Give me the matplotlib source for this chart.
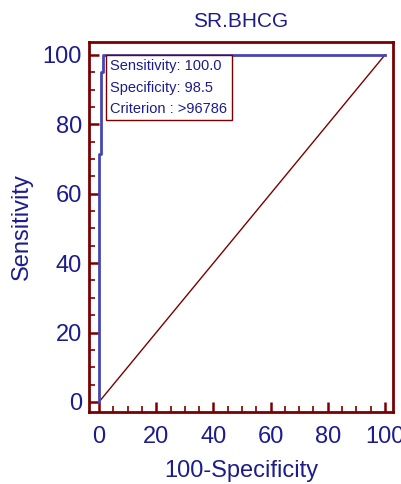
import matplotlib
matplotlib.use("Agg")
import matplotlib.pyplot as plt
from matplotlib import font_manager
from matplotlib.ticker import MultipleLocator

# Data
roc_fpr = [0, 0, 0.6, 0.6, 1.5, 1.5, 100]
roc_sens = [0, 71.4, 71.4, 95.2, 95.2, 100, 100]
diag_x = [0, 100]
diag_y = [0, 100]
title = "SR.BHCG"
xlabel = "100-Specificity"
ylabel = "Sensitivity"
box_lines = ["Sensitivity: 100.0", "Specificity: 98.5", "Criterion : >96786"]

names = {f.name for f in font_manager.fontManager.ttflist}
fam = "Liberation Sans Narrow" if "Liberation Sans Narrow" in names else "Liberation Sans"
plt.rcParams["font.family"] = [fam, "DejaVu Sans"]

navy = "#1c1c8c"
maroon = "#7a0000"
blue = "#4646b0"

fig = plt.figure(figsize=(4.01, 4.84), dpi=100)
ax = fig.add_axes([89/401, 72/484, 304/401, 370/484])

ax.plot(diag_x, diag_y, color=maroon, lw=1.0)
ax.plot(roc_fpr, roc_sens, color=blue, lw=2.0)

ax.set_xlim(-3.5, 102.8)
ax.set_ylim(-2.9, 103.7)
for s in ax.spines.values():
    s.set_color(maroon)
    s.set_linewidth(2)

ax.xaxis.set_major_locator(MultipleLocator(20))
ax.xaxis.set_minor_locator(MultipleLocator(5))
ax.yaxis.set_major_locator(MultipleLocator(20))
ax.yaxis.set_minor_locator(MultipleLocator(5))
ax.tick_params(which="both", direction="in", color=maroon, labelcolor=navy,
               top=False, right=False)
ax.tick_params(which="major", length=7.2, width=1.8, labelsize=17)
ax.tick_params(which="minor", length=4, width=1.2)
ax.tick_params(axis="x", which="major", pad=10)
ax.tick_params(axis="y", which="major", pad=5)

ax.set_title(title, color=navy, fontsize=15, pad=11)
ax.set_xlabel(xlabel, color=navy, fontsize=17, labelpad=9)
ax.set_ylabel(ylabel, color=navy, fontsize=17, labelpad=7)

ax.text(3.9, 98.7, "\n".join(box_lines), color=navy, fontsize=10.5,
        va="top", ha="left", linespacing=1.65,
        bbox=dict(boxstyle="square,pad=0.3", facecolor="white", edgecolor=maroon, linewidth=1.0))

fig.savefig("out.png", dpi=100)
